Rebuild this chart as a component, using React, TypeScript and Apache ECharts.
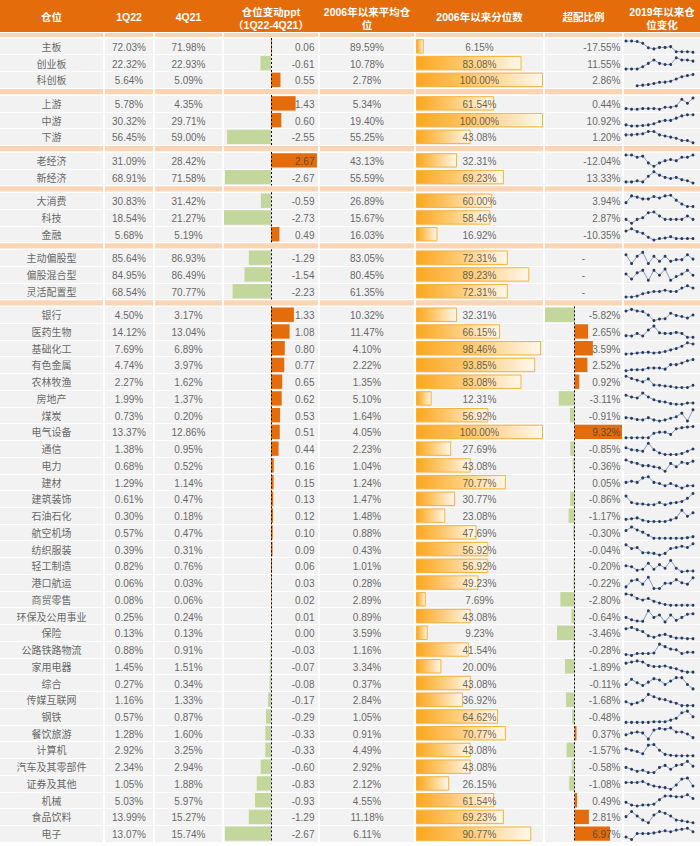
import React, { useEffect, useRef } from 'react';
import * as echarts from 'echarts';

// ---------- data ----------
const names = [
  '主板', '创业板', '科创板',
  '上游', '中游', '下游',
  '老经济', '新经济',
  '大消费', '科技', '金融',
  '主动偏股型', '偏股混合型', '灵活配置型',
  '银行', '医药生物', '基础化工', '有色金属', '农林牧渔', '房地产', '煤炭', '电气设备',
  '通信', '电力', '建材', '建筑装饰', '石油石化', '航空机场', '纺织服装', '轻工制造',
  '港口航运', '商贸零售', '环保及公用事业', '保险', '公路铁路物流', '家用电器', '综合',
  '传媒互联网', '钢铁', '餐饮旅游', '计算机', '汽车及其零部件', '证券及其他', '机械',
  '食品饮料', '电子',
];
const groupSizes = [3, 3, 2, 3, 3, 32];

const q1 = [
  72.03, 22.32, 5.64, 5.78, 30.32, 56.45, 31.09, 68.91, 30.83, 18.54, 5.68, 85.64, 84.95, 68.54,
  4.50, 14.12, 7.69, 4.74, 2.27, 1.99, 0.73, 13.37, 1.38, 0.68, 1.29, 0.61, 0.30, 0.57, 0.39, 0.82,
  0.06, 0.08, 0.25, 0.13, 0.88, 1.45, 0.27, 1.16, 0.57, 1.28, 2.92, 2.34, 1.05, 5.03, 13.99, 13.07,
];
const q4 = [
  71.98, 22.93, 5.09, 4.35, 29.71, 59.00, 28.42, 71.58, 31.42, 21.27, 5.19, 86.93, 86.49, 70.77,
  3.17, 13.04, 6.89, 3.97, 1.62, 1.37, 0.20, 12.86, 0.95, 0.52, 1.14, 0.47, 0.18, 0.47, 0.31, 0.76,
  0.03, 0.06, 0.24, 0.13, 0.91, 1.51, 0.34, 1.33, 0.87, 1.60, 3.25, 2.94, 1.88, 5.97, 15.27, 15.74,
];
const chg = [
  0.06, -0.61, 0.55, 1.43, 0.60, -2.55, 2.67, -2.67, -0.59, -2.73, 0.49, -1.29, -1.54, -2.23,
  1.33, 1.08, 0.80, 0.77, 0.65, 0.62, 0.53, 0.51, 0.44, 0.16, 0.15, 0.13, 0.12, 0.10, 0.09, 0.06,
  0.03, 0.02, 0.01, 0.00, -0.03, -0.07, -0.08, -0.17, -0.29, -0.33, -0.33, -0.60, -0.83, -0.93, -1.29, -2.67,
];
const avg = [
  89.59, 10.78, 2.78, 5.34, 19.40, 55.25, 43.13, 55.59, 26.89, 15.67, 16.03, 83.05, 80.45, 61.35,
  10.32, 11.47, 4.10, 2.22, 1.35, 5.10, 1.64, 4.05, 2.23, 1.04, 1.24, 1.47, 1.48, 0.88, 0.43, 1.01,
  0.28, 2.89, 0.89, 3.59, 1.16, 3.34, 0.37, 2.84, 1.05, 0.91, 4.49, 2.92, 2.12, 4.55, 11.18, 6.11,
];
const pct = [
  6.15, 83.08, 100.0, 61.54, 100.0, 43.08, 32.31, 69.23, 60.0, 58.46, 16.92, 72.31, 89.23, 72.31,
  32.31, 66.15, 98.46, 93.85, 83.08, 12.31, 56.92, 100.0, 27.69, 43.08, 70.77, 30.77, 23.08, 47.69, 56.92, 56.92,
  49.23, 7.69, 43.08, 9.23, 41.54, 20.0, 43.08, 36.92, 64.62, 70.77, 43.08, 43.08, 26.15, 61.54, 69.23, 90.77,
];
const ow: (number | null)[] = [
  -17.55, 11.55, 2.86, 0.44, 10.92, 1.20, -12.04, 13.33, 3.94, 2.87, -10.35, null, null, null,
  -5.82, 2.65, 3.59, 2.52, 0.92, -3.11, -0.91, 9.32, -0.85, -0.36, 0.05, -0.86, -1.17, -0.30, -0.04, -0.20,
  -0.22, -2.80, -0.64, -3.46, -0.28, -1.89, -0.11, -1.68, -0.48, 0.37, -1.57, -0.58, -1.08, 0.49, 2.81, 6.97,
];
const owBarGroup = 5; // only the industry block carries over-weight bars

const quarters = ['19Q1', '19Q2', '19Q3', '19Q4', '20Q1', '20Q2', '20Q3', '20Q4', '21Q1', '21Q2', '21Q3', '21Q4', '22Q1'];
// relative position level (0 = lowest, 10 = highest)
const trend: (number | null)[][] = [
  [10, 10, 9.5, 8, 4, 3, 4.3, 4.3, 5, 0.5, 0.5, 0.5, 0],
  [0, 0, 0, 2, 5, 8, 5, 4, 4, 10, 8, 8, 7],
  [null, null, 0, 0.5, 1, 2, 3, 3.2, 4, 6, 8, 9, 10],
  [2, 1.5, 1.5, 2, 2, 2, 1.5, 3, 3, 4, 9, 6, 10],
  [1, 0, 0, 0.5, 1, 2, 4, 5, 5, 7, 9, 10, 10],
  [7, 7, 7.5, 8, 10, 10, 7, 6, 5, 4, 2, 2, 0],
  [10, 10, 8, 9, 3, 0, 3, 5, 6, 5, 8, 8, 10],
  [1, 1, 2, 1, 6, 10, 7, 5, 4, 5, 3, 2, 0],
  [3.5, 9.5, 8.4, 6.8, 6.8, 8.9, 7.6, 9.5, 10, 5.7, 2.2, 0, 0],
  [3.5, 0, 3.5, 5, 9.4, 10, 6.5, 3.5, 3.5, 3.5, 3.5, 6.5, 3.5],
  [8, 10, 7.5, 6, 2.5, 0, 1.3, 1.8, 3, 1.3, 1.3, 1.3, 1.3],
  [7.9, 0, 6.5, 10, 0, 6.5, 2, 6.5, 2, 3.5, 3.5, 7.9, 4],
  [6, 2, 7, 9, 1, 9, 5, 10, 1, 4, 6, 9, 5],
  [0, 0, 1, 3, 4, 5, 5, 6, 5, 5, 8, 10, 8],
  [8.6, 10, 8.6, 8, 5, 0, 1.4, 1.7, 6.6, 4.6, 3.7, 2.3, 5],
  [1.5, 1.2, 3.5, 1.2, 6.5, 10, 4, 3.5, 3.5, 4.4, 3.5, 0, 0],
  [0, 0.3, 0.9, 1.4, 1.7, 0.9, 1.4, 2.3, 3.7, 5, 7, 10, 9],
  [0, 1, 1, 1, 2.5, 2.5, 2.5, 1.5, 5.5, 5.5, 7, 9, 10],
  [10, 8, 6.6, 5.1, 7.7, 2.3, 2, 1.4, 0.9, 0, 0, 0, 2],
  [8, 6.5, 5.6, 10, 6.5, 4, 2.6, 2, 0.6, 0, 0, 1.2, 1.2],
  [3, 2.5, 1.3, 1, 3, 1, 0, 1, 2.5, 3.8, 7, 0, 10],
  [0, 0, 0, 0, 0, 4, 5, 5, 3, 8, 9, 9.5, 10],
  [6, 4.3, 3.7, 2.9, 10, 4.3, 1.4, 0, 0, 0, 0.9, 2.9, 4.9],
  [10, 8, 7, 5, 5, 4, 3, 0, 7, 4, 8, 7, 9],
  [5, 6, 5, 9, 10, 5, 4, 2, 4, 2, 0, 2, 2],
  [7.7, 2, 0.9, 0.6, 0, 0, 2, 0, 1.4, 2, 2.9, 5.7, 10],
  [1.9, 2.4, 3.2, 1.1, 0, 0, 0, 0, 1.4, 3.2, 10, 4.6, 7.8],
  [6.8, 10, 7.3, 5.4, 2.7, 0, 0, 0, 0, 0, 0, 0.5, 1.4],
  [9, 5.7, 6.6, 2, 2, 1.4, 0, 1.4, 5.7, 6.6, 7.7, 6.6, 10],
  [5.3, 4.4, 1.3, 2.2, 7.5, 2.2, 6.3, 3.1, 10, 3.1, 0, 0.6, 0.6],
  [1.4, 6.8, 7.8, 3.8, 10, 0, 0, 4.6, 4.6, 7.8, 5.1, 3.8, 9.5],
  [10, 9, 6, 4.6, 6, 3.4, 2, 0.6, 0, 0, 0, 0, 0],
  [4, 1.9, 0.8, 0.5, 10, 4, 6.2, 0, 6.2, 1.4, 4, 6.8, 7.3],
  [8.8, 10, 8, 6.3, 2.5, 1.3, 3, 3.8, 2, 0.5, 0.5, 0, 0],
  [0.8, 0, 1.7, 1.7, 1.7, 2.2, 10, 7.8, 5.6, 5, 1.7, 2.8, 2.8],
  [8, 9, 10, 9, 6, 5, 5, 5.5, 4, 3, 1, 0, 0],
  [3.9, 8.5, 5.5, 3, 6, 9.1, 7.9, 3.9, 7, 10, 10, 3.9, 0],
  [3.4, 1.3, 2.6, 4.7, 10, 7.9, 6, 5.3, 3.4, 2.1, 0, 0, 0],
  [0, 0, 0, 0, 0, 0.6, 0.6, 0.6, 2, 3.7, 8.6, 10, 4.9],
  [3.8, 5.5, 6.3, 5.5, 0, 8, 9.5, 8.8, 10, 6.3, 6.3, 4.5, 1.3],
  [6.3, 5, 3.8, 1.8, 9.5, 10, 5, 1.3, 0.5, 0, 0, 0, 0],
  [4.6, 2.9, 1.1, 2.1, 0, 0, 4.6, 6.4, 2.9, 6.4, 7.1, 10, 5.7],
  [6.1, 6.1, 6.1, 7, 4.5, 3, 2.1, 1.5, 0, 3.9, 9.1, 10, 3],
  [3.3, 1, 0, 1, 1, 1.7, 5.7, 9, 9, 8.3, 8.3, 10, 6.7],
  [5.5, 10, 6, 2.4, 0, 7, 10, 8.5, 6, 2.4, 1.8, 0.9, 0],
  [2.2, 0, 5.3, 5.3, 5.3, 5.9, 6.9, 7.8, 6.9, 8.4, 9.1, 10, 6.9],
];

const headers: string[][] = [
  ['仓位'], ['1Q22'], ['4Q21'], ['仓位变动ppt', '（1Q22-4Q21）'],
  ['2006年以来平均仓', '位'], ['2006年以来分位数'], ['超配比例'], ['2019年以来仓', '位变化'],
];

// ---------- layout / style ----------
const W = 700;
const H = 846;
const HEADER_H = 32;
const TABLE_TOP = 38;
const ROW_H = 16.74;
const GAP = 6.8;
const COLS: [number, number][] = [
  [0, 103], [105, 153], [155, 222], [224, 318], [320, 414], [416, 543], [545, 622], [624, 700],
];
const ORANGE = '#E46C0A';
const GREEN = '#C3D69B';
const PEACH = '#FBD4B4';
const CELL = '#F2F2F2';
const TEXT = '#404040';
const FONT = '"Liberation Sans", Arial, "Noto Sans CJK SC", sans-serif';

function buildOption() {
  const grid: any[] = [];
  const xAxis: any[] = [];
  const yAxis: any[] = [];
  const series: any[] = [];
  const elements: any[] = [];

  const p2 = (v: number) => v.toFixed(2) + '%';
  const chgMax = Math.max(...chg.map((v) => Math.abs(v)));
  const owInd: number[] = [];
  let s0 = 0;
  groupSizes.forEach((n, g) => {
    if (g === owBarGroup) for (let k = 0; k < n; k++) owInd.push(ow[s0 + k] as number);
    s0 += n;
  });
  const owMin = Math.min(...owInd);
  const owMax = Math.max(...owInd);

  const labelBase = { color: TEXT, fontSize: 10, fontFamily: FONT };

  const addText = (gi: number, x: number, texts: string[], position: any, distance = 0) => {
    series.push({
      type: 'scatter', xAxisIndex: gi, yAxisIndex: gi, symbol: 'circle', symbolSize: 1,
      silent: true, z: 10, itemStyle: { color: 'rgba(0,0,0,0)' },
      data: texts.map((_, k) => [x, k]),
      label: { show: true, position, distance, offset: [0, 1], formatter: (p: any) => texts[p.dataIndex], ...labelBase },
    });
  };

  // header
  elements.push({ type: 'rect', shape: { x: 0, y: 0, width: W, height: HEADER_H }, style: { fill: ORANGE }, silent: true });
  COLS.forEach(([l, r], c) => {
    const lines = headers[c];
    const cx = (l + r) / 2;
    const ys = lines.length === 1 ? [17] : [11.5, 24.5];
    lines.forEach((t, j) => {
      elements.push({
        type: 'text', x: cx, y: ys[j], silent: true,
        style: {
          text: t, fill: '#ffffff', font: `bold 10.5px ${FONT}`,
          textAlign: 'center', textVerticalAlign: 'middle', align: 'center', verticalAlign: 'middle',
        },
      });
    });
    // peach strip below header
    elements.push({ type: 'rect', shape: { x: l, y: HEADER_H + 1, width: r - l, height: TABLE_TOP - HEADER_H - 2 }, style: { fill: PEACH }, silent: true });
  });

  let start = 0;
  groupSizes.forEach((n, g) => {
    const rows = Array.from({ length: n }, (_, k) => start + k);
    const top = TABLE_TOP + start * ROW_H + g * GAP;
    const h = n * ROW_H;

    COLS.forEach(([l, r], c) => {
      const gi = grid.length;
      grid.push({ left: l, top, width: r - l, height: h, show: true, backgroundColor: CELL, borderWidth: 0 });
      const range = c === 3 ? [-chgMax, chgMax] : c === 5 ? [0, 100] : c === 6 ? [owMin, owMax] : [0, 1];
      const mid = (range[0] + range[1]) / 2;
      xAxis.push({ gridIndex: gi, type: 'value', min: range[0], max: range[1], show: false });
      yAxis.push({
        gridIndex: gi, type: 'category', inverse: true, data: rows.map((i) => names[i]),
        axisLine: { show: false }, axisTick: { show: false }, axisLabel: { show: false, interval: 0 },
        splitLine: { show: true, interval: 0, lineStyle: { color: '#ffffff', width: 1 } },
      });

      if (c === 0) addText(gi, mid, rows.map((i) => names[i]), 'inside');
      if (c === 1) addText(gi, mid, rows.map((i) => p2(q1[i])), 'inside');
      if (c === 2) addText(gi, mid, rows.map((i) => p2(q4[i])), 'inside');
      if (c === 4) addText(gi, mid, rows.map((i) => p2(avg[i])), 'inside');
      if (c === 3) {
        series.push({
          type: 'bar', xAxisIndex: gi, yAxisIndex: gi, barWidth: '86%', silent: true,
          data: rows.map((i) => ({ value: chg[i], itemStyle: { color: chg[i] >= 0 ? ORANGE : GREEN } })),
          markLine: {
            silent: true, symbol: 'none', label: { show: false },
            lineStyle: { color: '#000000', type: [2, 2], width: 1 }, data: [{ xAxis: 0 }],
          },
        });
        addText(gi, range[1], rows.map((i) => chg[i].toFixed(2)), 'left', 3);
      }
      if (c === 5) {
        series.push({
          type: 'bar', xAxisIndex: gi, yAxisIndex: gi, barWidth: '86%', silent: true,
          data: rows.map((i) => pct[i]),
          itemStyle: {
            color: new echarts.graphic.LinearGradient(0, 0, 1, 0, [
              { offset: 0, color: '#FBA61E' },
              { offset: 0.4, color: '#FDC566' },
              { offset: 1, color: '#FFF8EC' },
            ]),
            borderColor: '#F8B23A', borderWidth: 1,
          },
        });
        addText(gi, mid, rows.map((i) => p2(pct[i])), 'inside');
      }
      if (c === 6) {
        if (g === owBarGroup) {
          series.push({
            type: 'bar', xAxisIndex: gi, yAxisIndex: gi, barWidth: '86%', silent: true,
            data: rows.map((i) => ({ value: ow[i], itemStyle: { color: (ow[i] as number) >= 0 ? ORANGE : GREEN } })),
            markLine: {
              silent: true, symbol: 'none', label: { show: false },
              lineStyle: { color: '#000000', type: [2, 2], width: 1 }, data: [{ xAxis: 0 }],
            },
          });
        }
        series.push({
          type: 'scatter', xAxisIndex: gi, yAxisIndex: gi, symbol: 'circle', symbolSize: 1,
          silent: true, z: 10, itemStyle: { color: 'rgba(0,0,0,0)' },
          data: rows.map((i, k) =>
            ow[i] === null
              ? { value: [mid, k], label: { position: 'inside', distance: 0 } }
              : { value: [range[1], k], label: { position: 'left', distance: 1 } }
          ),
          label: {
            show: true, offset: [0, 1], ...labelBase,
            formatter: (p: any) => {
              const v = ow[rows[p.dataIndex]];
              return v === null ? '-' : p2(v);
            },
          },
        });
      }
      // peach strip under the group
      if (g < groupSizes.length - 1) {
        elements.push({
          type: 'rect', silent: true,
          shape: { x: l, y: top + h + 0.8, width: r - l, height: GAP - 1.6 },
          style: { fill: PEACH },
        });
      }
    });

    // sparklines, one small grid per row
    rows.forEach((i, k) => {
      const gi = grid.length;
      const rowTop = top + k * ROW_H;
      grid.push({ left: 626, width: 67, top: rowTop + 3, height: ROW_H - 5.5 });
      xAxis.push({ gridIndex: gi, type: 'category', data: quarters, boundaryGap: false, show: false });
      yAxis.push({ gridIndex: gi, type: 'value', min: 'dataMin', max: 'dataMax', show: false });
      series.push({
        type: 'line', xAxisIndex: gi, yAxisIndex: gi, data: trend[i], silent: true,
        symbol: 'circle', symbolSize: 3, showSymbol: true, connectNulls: false,
        lineStyle: { color: '#7F9DC9', width: 1 },
        itemStyle: { color: '#2B3B5C' },
      });
    });

    start += n;
  });

  return {
    animation: false,
    backgroundColor: '#ffffff',
    textStyle: { fontFamily: FONT },
    grid, xAxis, yAxis, series,
    graphic: { elements },
  };
}

export default function App() {
  const ref = useRef<HTMLDivElement>(null);
  useEffect(() => {
    if (!ref.current) return;
    const chart = echarts.init(ref.current, undefined, { renderer: 'svg' });
    chart.setOption(buildOption() as any);
    return () => chart.dispose();
  }, []);
  return <div ref={ref} style={{ position: 'fixed', left: 0, top: 0, width: W, height: H }} />;
}
